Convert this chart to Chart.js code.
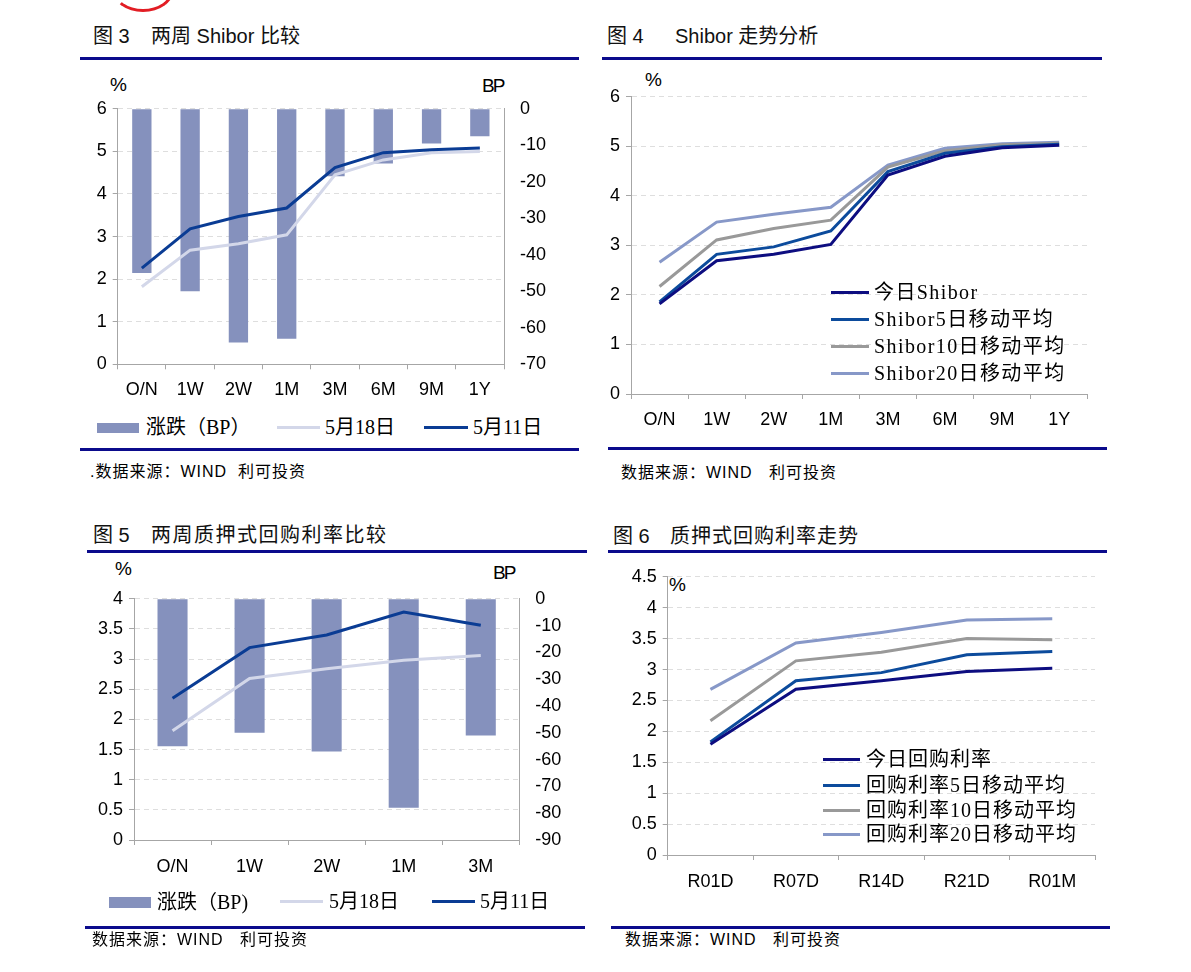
<!DOCTYPE html>
<html>
<head>
<meta charset="utf-8">
<script src="https://cdn.jsdelivr.net/npm/chart.js@4.4.0/dist/chart.umd.min.js"></script>
<style>
  body { margin: 0; background: #fff; width: 1191px; height: 972px; position: relative; overflow: hidden;
         font-family: "Liberation Sans", "Noto Sans CJK SC", sans-serif; color: #000; }
  canvas { position: absolute; }
  .t { position: absolute; white-space: pre; transform: translateY(-50%); }
  .title { font-size: 20px; line-height: 24px; color: #111; }
  .rule { position: absolute; height: 3px; background: #0b0b8c; }
  .src { font-size: 16px; line-height: 20px; letter-spacing: 1px; }
  .unit { font-size: 19px; line-height: 22px; }
  .lg { font-family: "Liberation Serif", "Noto Sans CJK SC", serif; font-size: 20px; line-height: 22px; }
  .sw { position: absolute; }
</style>
</head>
<body>
<!-- logo fragment at the top -->
<div style="position:absolute;left:112px;top:-34px;width:56px;height:40px;border:3px solid #e21d24;border-top-color:transparent;border-left-color:transparent;border-radius:50%;"></div>

<!-- figure 3 -->
<div class="t title" style="left:93px;top:36px;">图 3</div>
<div class="t title" style="left:151px;top:36px;">两周 Shibor 比较</div>
<div class="rule" style="left:80px;top:57px;width:499px;"></div>
<div class="t unit" style="left:110px;top:85px;">%</div>
<div class="t unit" style="left:482px;top:86px;letter-spacing:-2px;">BP</div>
<canvas id="c1" width="500" height="310" style="left:80px;top:92px;"></canvas>
<div class="sw" style="left:97px;top:423px;width:42px;height:10px;background:#8591bd;"></div>
<div class="t lg" style="left:146px;top:427px;">涨跌（BP）</div>
<div class="sw" style="left:277px;top:426px;width:43px;height:3px;background:#d3d7e9;"></div>
<div class="t lg" style="left:325px;top:427px;">5月18日</div>
<div class="sw" style="left:424px;top:426px;width:44px;height:3px;background:#0a3c94;"></div>
<div class="t lg" style="left:473px;top:427px;">5月11日</div>
<div class="rule" style="left:80px;top:448px;width:499px;"></div>
<div class="t src" style="left:90px;top:472px;">.数据来源：WIND  利可投资</div>

<!-- figure 4 -->
<div class="t title" style="left:607px;top:36px;">图 4</div>
<div class="t title" style="left:675px;top:36px;">Shibor 走势分析</div>
<div class="rule" style="left:602px;top:57px;width:500px;"></div>
<div class="t unit" style="left:645px;top:80px;">%</div>
<canvas id="c2" width="510" height="360" style="left:595px;top:80px;"></canvas>
<div class="sw" style="left:831px;top:291px;width:38px;height:3px;background:#0d0d80;"></div>
<div class="t lg" style="left:874px;top:292px;letter-spacing:1.4px;">今日Shibor</div>
<div class="sw" style="left:831px;top:318px;width:38px;height:3px;background:#0c4b9c;"></div>
<div class="t lg" style="left:874px;top:319px;letter-spacing:1.4px;">Shibor5日移动平均</div>
<div class="sw" style="left:831px;top:345px;width:38px;height:3px;background:#999999;"></div>
<div class="t lg" style="left:874px;top:346px;letter-spacing:1.4px;">Shibor10日移动平均</div>
<div class="sw" style="left:831px;top:372px;width:38px;height:3px;background:#8798c8;"></div>
<div class="t lg" style="left:874px;top:373px;letter-spacing:1.4px;">Shibor20日移动平均</div>
<div class="rule" style="left:608px;top:447px;width:499px;"></div>
<div class="t src" style="left:621px;top:473px;">数据来源：WIND   利可投资</div>

<!-- figure 5 -->
<div class="t title" style="left:93px;top:535px;">图 5</div>
<div class="t title" style="left:151px;top:535px;letter-spacing:1.5px;">两周质押式回购利率比较</div>
<div class="rule" style="left:87px;top:550px;width:500px;"></div>
<div class="t unit" style="left:115px;top:569px;">%</div>
<div class="t unit" style="left:493px;top:573px;letter-spacing:-2px;">BP</div>
<canvas id="c3" width="510" height="310" style="left:80px;top:582px;"></canvas>
<div class="sw" style="left:109px;top:897px;width:42px;height:11px;background:#8591bd;"></div>
<div class="t lg" style="left:157px;top:902px;">涨跌（BP)</div>
<div class="sw" style="left:280px;top:900px;width:43px;height:3px;background:#d3d7e9;"></div>
<div class="t lg" style="left:329px;top:901px;">5月18日</div>
<div class="sw" style="left:432px;top:900px;width:43px;height:3px;background:#0a3c94;"></div>
<div class="t lg" style="left:480px;top:901px;">5月11日</div>
<div class="rule" style="left:85px;top:926px;width:500px;"></div>
<div class="t src" style="left:92px;top:940px;">数据来源：WIND   利可投资</div>

<!-- figure 6 -->
<div class="t title" style="left:613px;top:536px;">图 6</div>
<div class="t title" style="left:670px;top:536px;letter-spacing:1px;">质押式回购利率走势</div>
<div class="rule" style="left:608px;top:550px;width:499px;"></div>
<div class="t unit" style="left:669px;top:585px;">%</div>
<canvas id="c4" width="510" height="345" style="left:595px;top:560px;"></canvas>
<div class="sw" style="left:823px;top:758px;width:37px;height:3px;background:#0d0d80;"></div>
<div class="t lg" style="left:866px;top:759px;letter-spacing:1px;">今日回购利率</div>
<div class="sw" style="left:823px;top:784px;width:37px;height:3px;background:#0c4b9c;"></div>
<div class="t lg" style="left:866px;top:785px;letter-spacing:1px;">回购利率5日移动平均</div>
<div class="sw" style="left:823px;top:809px;width:37px;height:3px;background:#999999;"></div>
<div class="t lg" style="left:866px;top:810px;letter-spacing:1px;">回购利率10日移动平均</div>
<div class="sw" style="left:823px;top:833px;width:37px;height:3px;background:#8798c8;"></div>
<div class="t lg" style="left:866px;top:834px;letter-spacing:1px;">回购利率20日移动平均</div>
<div class="rule" style="left:611px;top:926px;width:499px;"></div>
<div class="t src" style="left:625px;top:940px;">数据来源：WIND   利可投资</div>

<script>
// fig 3: two-week Shibor comparison
const shiborTerms = ['O/N', '1W', '2W', '1M', '3M', '6M', '9M', '1Y'];
const shiborChangeBP = [-45, -50, -64, -63, -18.5, -15, -9.5, -7.5];
const shibor0518 = [1.82, 2.68, 2.83, 3.04, 4.45, 4.80, 4.97, 5.00];
const shibor0511 = [2.26, 3.18, 3.47, 3.67, 4.62, 4.97, 5.04, 5.08];

// fig 4: Shibor and moving averages
const shiborToday = [1.82, 2.69, 2.82, 3.02, 4.42, 4.80, 4.97, 5.02];
const shiborMA5 = [1.86, 2.82, 2.97, 3.29, 4.49, 4.86, 4.99, 5.04];
const shiborMA10 = [2.17, 3.11, 3.34, 3.51, 4.58, 4.91, 5.03, 5.06];
const shiborMA20 = [2.66, 3.47, 3.63, 3.77, 4.62, 4.96, 5.05, 5.08];

// fig 5: two-week pledged repo comparison
const repoTerms = ['O/N', '1W', '2W', '1M', '3M'];
const repoChangeBP = [-55, -50, -57, -78, -51];
const repo0518 = [1.81, 2.68, 2.84, 2.98, 3.06];
const repo0511 = [2.35, 3.19, 3.40, 3.78, 3.56];

// fig 6: pledged repo rates and moving averages
const repoCodes = ['R01D', 'R07D', 'R14D', 'R21D', 'R01M'];
const repoToday = [1.79, 2.68, 2.82, 2.97, 3.02];
const repoMA5 = [1.83, 2.82, 2.95, 3.24, 3.29];
const repoMA10 = [2.17, 3.14, 3.28, 3.50, 3.48];
const repoMA20 = [2.68, 3.43, 3.60, 3.80, 3.82];

const axisGray = '#a6a6a6';
const gridGray = '#dedede';
const tickFont = { family: '"Liberation Sans", Arial, sans-serif', size: 18 };
const fixW = w => s => { s.width = w; };
const fixH = h => s => { s.height = h; };
const fmt = v => String(Math.round(v * 10) / 10);

function lineSet(label, data, color, order) {
  return { type: 'line', label, data, yAxisID: 'y', borderColor: color, backgroundColor: color,
           borderWidth: 3, pointRadius: 0, tension: 0, order };
}

function xAxis(height, pad) {
  return {
    offset: true,
    grid: { offset: true, drawOnChartArea: false, color: axisGray, tickLength: 5 },
    border: { color: axisGray },
    ticks: { font: tickFont, color: '#000', padding: pad, autoSkip: false, maxRotation: 0 },
    afterFit: fixH(height)
  };
}

function yLeft(max, step, width) {
  return {
    position: 'left', min: 0, max: max,
    ticks: { stepSize: step, font: tickFont, color: '#000', padding: 6, callback: fmt },
    grid: { color: gridGray, tickColor: axisGray, tickLength: 5, tickBorderDash: [] },
    border: { color: axisGray, dash: [5, 4] },
    afterFit: fixW(width)
  };
}

// right BP axis: invisible tick marks keep the label gap without padding the top
function yRight(min, width) {
  return {
    position: 'right', min: min, max: 0,
    ticks: { stepSize: 10, font: tickFont, color: '#000', padding: 0 },
    grid: { drawOnChartArea: false, tickLength: 16, tickColor: 'rgba(0,0,0,0)' },
    border: { color: axisGray },
    afterFit: fixW(width)
  };
}

const baseOpts = { responsive: false, animation: false, plugins: { legend: { display: false }, tooltip: { enabled: false } } };

new Chart(document.getElementById('c1'), {
  type: 'bar',
  data: {
    labels: shiborTerms,
    datasets: [
      lineSet('5月11日', shibor0511, '#0a3c94', 1),
      lineSet('5月18日', shibor0518, '#d3d7e9', 2),
      { type: 'bar', label: '涨跌（BP）', data: shiborChangeBP, yAxisID: 'y2', backgroundColor: '#8591bd',
        barPercentage: 0.4, categoryPercentage: 1, order: 3 }
    ]
  },
  options: {
    ...baseOpts,
    layout: { padding: { top: 14, left: 0, right: 0, bottom: 0 } },
    scales: { x: xAxis(37.7, 10), y: yLeft(6, 1, 37.7), y2: yRight(-70, 76) }
  }
});

new Chart(document.getElementById('c2'), {
  type: 'line',
  data: {
    labels: shiborTerms,
    datasets: [
      lineSet('今日Shibor', shiborToday, '#0d0d80', 1),
      lineSet('Shibor5日移动平均', shiborMA5, '#0c4b9c', 2),
      lineSet('Shibor10日移动平均', shiborMA10, '#999999', 3),
      lineSet('Shibor20日移动平均', shiborMA20, '#8798c8', 4)
    ]
  },
  options: {
    ...baseOpts,
    layout: { padding: { top: 16.7, left: 0, right: 17.3, bottom: 0 } },
    scales: { x: xAxis(46, 10), y: yLeft(6, 1, 36) }
  }
});

new Chart(document.getElementById('c3'), {
  type: 'bar',
  data: {
    labels: repoTerms,
    datasets: [
      lineSet('5月11日', repo0511, '#0a3c94', 1),
      lineSet('5月18日', repo0518, '#d3d7e9', 2),
      { type: 'bar', label: '涨跌（BP)', data: repoChangeBP, yAxisID: 'y2', backgroundColor: '#8591bd',
        barPercentage: 0.39, categoryPercentage: 1, order: 3 }
    ]
  },
  options: {
    ...baseOpts,
    layout: { padding: { top: 14.3, left: 0, right: 0, bottom: 0 } },
    scales: { x: xAxis(52, 11), y: yLeft(4, 0.5, 54), y2: yRight(-90, 70.7) }
  }
});

new Chart(document.getElementById('c4'), {
  type: 'line',
  data: {
    labels: repoCodes,
    datasets: [
      lineSet('今日回购利率', repoToday, '#0d0d80', 1),
      lineSet('回购利率5日移动平均', repoMA5, '#0c4b9c', 2),
      lineSet('回购利率10日移动平均', repoMA10, '#999999', 3),
      lineSet('回购利率20日移动平均', repoMA20, '#8798c8', 4)
    ]
  },
  options: {
    ...baseOpts,
    layout: { padding: { top: 16, left: 0, right: 10, bottom: 0 } },
    scales: { x: xAxis(50, 11), y: yLeft(4.5, 0.5, 72.7) }
  }
});
</script>
</body>
</html>
